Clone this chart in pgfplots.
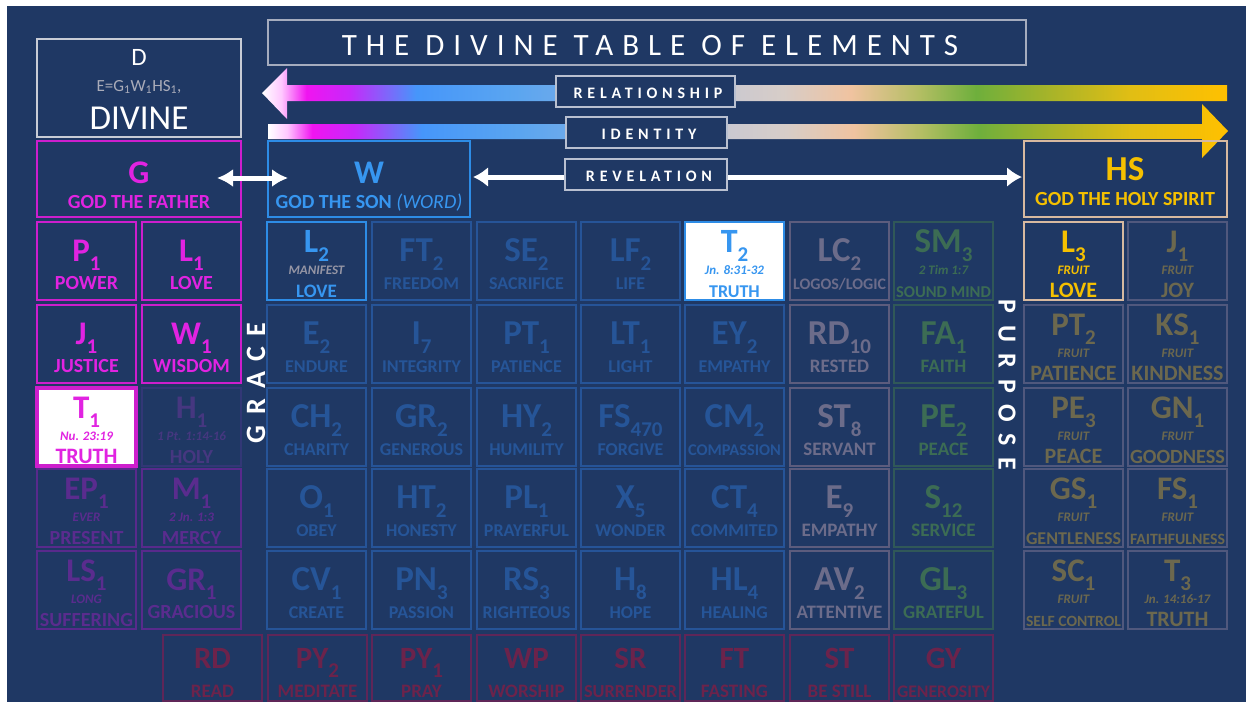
\documentclass[border=0pt]{standalone}
\usepackage{graphicx}
\usepackage{pgfplots}
\pgfplotsset{compat=1.18}
\usepackage{fontspec}
\setmainfont{Carlito}
\usetikzlibrary{arrows.meta}

% palette
\definecolor{bg}{RGB}{31,56,100}
\definecolor{mgB}{RGB}{205,30,205}
\definecolor{mgT}{RGB}{225,35,225}
\definecolor{puB}{RGB}{88,42,140}
\definecolor{puT}{RGB}{90,44,142}
\definecolor{hpB}{RGB}{50,55,118}
\definecolor{hpT}{RGB}{70,55,128}
\definecolor{blB}{RGB}{45,140,230}
\definecolor{blT}{RGB}{55,150,240}
\definecolor{bfB}{RGB}{38,84,152}
\definecolor{bfT}{RGB}{38,85,152}
\definecolor{gyB}{RGB}{92,92,125}
\definecolor{gyT}{RGB}{108,108,138}
\definecolor{grB}{RGB}{48,88,88}
\definecolor{grT}{RGB}{60,108,84}
\definecolor{gdT}{RGB}{245,192,0}
\definecolor{gdB}{RGB}{215,185,160}
\definecolor{gfT}{RGB}{108,104,78}
\definecolor{gfB}{RGB}{80,88,125}
\definecolor{rdB}{RGB}{95,38,88}
\definecolor{rdT}{RGB}{108,35,75}
\definecolor{noteG}{RGB}{150,150,165}
\definecolor{lblB}{RGB}{185,192,208}
\definecolor{ttlB}{RGB}{165,172,190}
\definecolor{dB}{RGB}{200,204,214}
\definecolor{dG}{RGB}{170,172,185}

% gradient of the two long arrows
\definecolor{s1}{RGB}{255,200,255}
\definecolor{s2}{RGB}{240,20,240}
\definecolor{s3}{RGB}{200,40,250}
\definecolor{s4}{RGB}{70,150,250}
\definecolor{s5}{RGB}{90,165,240}
\definecolor{s6}{RGB}{110,170,235}
\definecolor{s7}{RGB}{200,200,210}
\definecolor{s8}{RGB}{215,205,200}
\definecolor{s9}{RGB}{240,195,160}
\definecolor{s10}{RGB}{180,190,100}
\definecolor{s11}{RGB}{110,175,60}
\definecolor{s12}{RGB}{170,180,40}
\definecolor{s13}{RGB}{225,190,20}
\definecolor{s14}{RGB}{255,192,0}
\pgfdeclarehorizontalshading{rainbow}{100bp}{color(0bp)=(white); color(25bp)=(white);
  color(26bp)=(s1); color(27.3bp)=(s2); color(29.5bp)=(s3); color(33bp)=(s4);
  color(38bp)=(s5); color(41bp)=(s6); color(48.5bp)=(s7); color(52bp)=(s8);
  color(55.5bp)=(s9); color(59bp)=(s10); color(62bp)=(s11); color(66bp)=(s12);
  color(70bp)=(s13); color(75bp)=(s14); color(100bp)=(s14)}

\newsavebox\fitbox
\newcommand\fitw[2]{\sbox\fitbox{#2}\ifdim\wd\fitbox>#1\relax\resizebox{#1}{!}{\usebox\fitbox}\else\usebox\fitbox\fi}
\newcommand\sub[1]{\raisebox{-9pt}{\fontsize{21}{21}\selectfont#1}}

% group: name, border, fill, text, note colour, symbol size, name size, line width
\newcommand\defgroup[8]{%
  \tikzset{#1 box/.style={draw=#2, fill=#3, line width=#8},
    #1 sym/.style={text=#4, anchor=base, inner sep=0pt, font=\fontsize{#6}{#6}\selectfont\bfseries},
    #1 note/.style={text=#5, anchor=base, inner sep=0pt, font=\fontsize{13}{13}\selectfont\bfseries\itshape},
    #1 name/.style={text=#4, anchor=base, inner sep=0pt, font=\fontsize{#7}{#7}\selectfont\bfseries}}}
\defgroup{mg}{mgB}{bg}{mgT}{mgT}{33}{20}{2.5pt}
\defgroup{mgw}{mgB}{white}{mgT}{mgT}{33}{22}{4pt}
\defgroup{hp}{hpB}{bg}{hpT}{hpT}{33}{20}{2pt}
\defgroup{pu}{puB}{bg}{puT}{puT}{33}{20}{2.5pt}
\defgroup{bl}{blB}{bg}{blT}{noteG}{34}{19}{2pt}
\defgroup{blw}{blB}{white}{blT}{blT}{34}{18}{2pt}
\defgroup{bf}{bfB}{bg}{bfT}{bfT}{35}{18}{2.5pt}
\defgroup{gy}{gyB}{bg}{gyT}{gyT}{35}{19}{2.5pt}
\defgroup{gr}{grB}{bg}{grT}{grT}{35}{19}{2.5pt}
\defgroup{gd}{gdB}{bg}{gdT}{gdT}{33}{22}{2.5pt}
\defgroup{gf}{gfB}{bg}{gfT}{gfT}{33}{22}{2pt}
\defgroup{rd}{rdB}{bg}{rdT}{rdT}{31}{19}{2pt}

% cell: x, y (top left), group, symbol, subscript, note, name
\newcommand\cell[7]{%
  \pgfmathtruncatemacro\xb{#1+99}%
  \pgfmathsetmacro\xc{#1+49.5}%
  \pgfmathtruncatemacro\yb{#2+78}%
  \if\relax\detokenize{#6}\relax
    \pgfmathsetmacro\ys{#2+39}\pgfmathsetmacro\yn{#2+67}%
    \edef\doit{\noexpand\addplot[#3 box] coordinates {(#1,#2) (\xb,#2) (\xb,\yb) (#1,\yb)} -- cycle;
      \noexpand\node[#3 sym] at (axis cs:\xc,\ys) {\unexpanded{#4\sub{#5}}};
      \noexpand\node[#3 name] at (axis cs:\xc,\yn) {\unexpanded{\fitw{93pt}{#7}}};}%
  \else
    \pgfmathsetmacro\ys{#2+30}\pgfmathsetmacro\yt{#2+52}\pgfmathsetmacro\yn{#2+75}%
    \edef\doit{\noexpand\addplot[#3 box] coordinates {(#1,#2) (\xb,#2) (\xb,\yb) (#1,\yb)} -- cycle;
      \noexpand\node[#3 sym] at (axis cs:\xc,\ys) {\unexpanded{#4\sub{#5}}};
      \noexpand\node[#3 note] at (axis cs:\xc,\yt) {\unexpanded{\fitw{90pt}{#6}}};
      \noexpand\node[#3 name] at (axis cs:\xc,\yn) {\unexpanded{\fitw{95pt}{#7}}};}%
  \fi
  \doit}

% bottom row cell: x, symbol, subscript, name
\newcommand\bcell[4]{%
  \pgfmathtruncatemacro\xb{#1+99}%
  \pgfmathsetmacro\xc{#1+49.5}%
  \edef\doit{\noexpand\addplot[rd box] coordinates {(#1,635) (\xb,635) (\xb,701) (#1,701)} -- cycle;
    \noexpand\node[rd sym] at (axis cs:\xc,668) {\unexpanded{#2\sub{#3}}};
    \noexpand\node[rd name] at (axis cs:\xc,697) {\unexpanded{\fitw{93pt}{#4}}};}%
  \doit}

\begin{document}
\begin{tikzpicture}
\begin{axis}[
  width=1253pt, height=705pt, scale only axis,
  xmin=0, xmax=1253, ymin=0, ymax=705, y dir=reverse,
  hide axis, clip=false,
  every node/.append style={inner sep=0pt},
]
% page and background
\addplot[draw=none, fill=white] coordinates {(0,0) (1253,0) (1253,705) (0,705)} -- cycle;
\addplot[draw=none, fill=bg] coordinates {(7,6) (1246,6) (1246,702) (7,702)} -- cycle;

% title
\addplot[draw=ttlB, line width=1.5pt] coordinates {(268,20) (1026,20) (1026,65) (268,65)} -- cycle;
\node[white, anchor=base, font={\fontsize{31}{31}\selectfont\addfontfeature{LetterSpace=29}}] at (axis cs:650,55) {THE DIVINE TABLE OF ELEMENTS};

% long arrows
\addplot[draw=none, shade, shading=rainbow] coordinates {(262,93) (287,68) (287,85) (1227,85) (1227,101) (287,101) (287,119)} -- cycle;
\addplot[draw=none, shade, shading=rainbow] coordinates {(268,124) (1202,124) (1202,104) (1228,131) (1202,158) (1202,139) (268,139)} -- cycle;

% revelation arrow
\addplot[white, line width=5pt, {Latex[length=15pt,width=20pt]}-{Latex[length=15pt,width=20pt]}] coordinates {(473,177) (1022,177)};

% label boxes
\addplot[draw=lblB, fill=bg, line width=1.5pt] coordinates {(556,76) (735,76) (735,107) (556,107)} -- cycle;
\addplot[draw=lblB, fill=bg, line width=1.5pt] coordinates {(566,117) (727,117) (727,148) (566,148)} -- cycle;
\addplot[draw=lblB, fill=bg, line width=1.5pt] coordinates {(565,159) (727,159) (727,190) (565,190)} -- cycle;
\node[white, anchor=base, font={\fontsize{16}{16}\selectfont\bfseries\addfontfeature{LetterSpace=30}}] at (axis cs:648,98) {RELATIONSHIP};
\node[white, anchor=base, font={\fontsize{16}{16}\selectfont\bfseries\addfontfeature{LetterSpace=30}}] at (axis cs:649,139) {IDENTITY};
\node[white, anchor=base, font={\fontsize{16}{16}\selectfont\bfseries\addfontfeature{LetterSpace=30}}] at (axis cs:649,181) {REVELATION};

% D box
\addplot[draw=dB, line width=2.5pt] coordinates {(37,39) (241,39) (241,137) (37,137)} -- cycle;
\node[white, anchor=base, font=\fontsize{25}{25}\selectfont] at (axis cs:139,65) {D};
\node[dG, anchor=base, font=\fontsize{17}{17}\selectfont] at (axis cs:139,91) {E=G\textsubscript{1}W\textsubscript{1}HS\textsubscript{1},};
\node[white, anchor=base, font=\fontsize{35}{35}\selectfont] at (axis cs:139,129) {DIVINE};

% G, W, HS boxes
\addplot[draw=mgB, line width=2.5pt] coordinates {(37,141) (241,141) (241,217) (37,217)} -- cycle;
\node[mgT, anchor=base, font=\fontsize{33}{33}\selectfont\bfseries] at (axis cs:139,183) {G};
\node[mgT, anchor=base, font=\fontsize{20}{20}\selectfont\bfseries] at (axis cs:139,208) {\fitw{196pt}{GOD THE FATHER}};
\addplot[draw=blB, line width=2pt] coordinates {(268,141) (470,141) (470,217) (268,217)} -- cycle;
\node[blT, anchor=base, font=\fontsize{33}{33}\selectfont\bfseries] at (axis cs:369,183) {W};
\node[blT, anchor=base, font=\fontsize{20}{20}\selectfont\bfseries] at (axis cs:369,208) {\fitw{197pt}{GOD THE SON \textmd{\textit{(WORD)}}}};
\addplot[draw=gdB, line width=2.5pt] coordinates {(1024,141) (1227,141) (1227,217) (1024,217)} -- cycle;
\node[gdT, anchor=base, font=\fontsize{35}{35}\selectfont\bfseries] at (axis cs:1125,180) {HS};
\node[gdT, anchor=base, font=\fontsize{20}{20}\selectfont\bfseries] at (axis cs:1125,205) {\fitw{196pt}{GOD THE HOLY SPIRIT}};
\addplot[white, line width=5pt, {Latex[length=16pt,width=18pt]}-{Latex[length=16pt,width=18pt]}] coordinates {(217,178) (288,178)};

% left block
\cell{37}{222}{mg}{P}{1}{}{POWER}
\cell{142}{222}{mg}{L}{1}{}{LOVE}
\cell{37}{305}{mg}{J}{1}{}{JUSTICE}
\cell{142}{305}{mg}{W}{1}{}{WISDOM}
\cell{37}{388}{mgw}{T}{1}{Nu. 23:19}{TRUTH}
\cell{142}{388}{hp}{H}{1}{1 Pt. 1:14-16}{HOLY}
\cell{37}{469}{pu}{EP}{1}{EVER}{PRESENT}
\cell{142}{469}{pu}{M}{1}{2 Jn. 1:3}{MERCY}
\cell{37}{551}{pu}{LS}{1}{LONG}{SUFFERING}
\cell{142}{551}{pu}{GR}{1}{}{GRACIOUS}

% middle block
\cell{267}{222}{bl}{L}{2}{MANIFEST}{LOVE}
\cell{372}{222}{bf}{FT}{2}{}{FREEDOM}
\cell{477}{222}{bf}{SE}{2}{}{SACRIFICE}
\cell{581}{222}{bf}{LF}{2}{}{LIFE}
\cell{685}{222}{blw}{T}{2}{Jn. 8:31-32}{TRUTH}
\cell{790}{222}{gy}{LC}{2}{}{LOGOS/LOGIC}
\cell{894}{222}{gr}{SM}{3}{2 Tim 1:7}{SOUND MIND}

\cell{267}{305}{bf}{E}{2}{}{ENDURE}
\cell{372}{305}{bf}{I}{7}{}{INTEGRITY}
\cell{477}{305}{bf}{PT}{1}{}{PATIENCE}
\cell{581}{305}{bf}{LT}{1}{}{LIGHT}
\cell{685}{305}{bf}{EY}{2}{}{EMPATHY}
\cell{790}{305}{gy}{RD}{10}{}{RESTED}
\cell{894}{305}{gr}{FA}{1}{}{FAITH}

\cell{267}{388}{bf}{CH}{2}{}{CHARITY}
\cell{372}{388}{bf}{GR}{2}{}{GENEROUS}
\cell{477}{388}{bf}{HY}{2}{}{HUMILITY}
\cell{581}{388}{bf}{FS}{470}{}{FORGIVE}
\cell{685}{388}{bf}{CM}{2}{}{COMPASSION}
\cell{790}{388}{gy}{ST}{8}{}{SERVANT}
\cell{894}{388}{gr}{PE}{2}{}{PEACE}

\cell{267}{469}{bf}{O}{1}{}{OBEY}
\cell{372}{469}{bf}{HT}{2}{}{HONESTY}
\cell{477}{469}{bf}{PL}{1}{}{PRAYERFUL}
\cell{581}{469}{bf}{X}{5}{}{WONDER}
\cell{685}{469}{bf}{CT}{4}{}{COMMITED}
\cell{790}{469}{gy}{E}{9}{}{EMPATHY}
\cell{894}{469}{gr}{S}{12}{}{SERVICE}

\cell{267}{551}{bf}{CV}{1}{}{CREATE}
\cell{372}{551}{bf}{PN}{3}{}{PASSION}
\cell{477}{551}{bf}{RS}{3}{}{RIGHTEOUS}
\cell{581}{551}{bf}{H}{8}{}{HOPE}
\cell{685}{551}{bf}{HL}{4}{}{HEALING}
\cell{790}{551}{gy}{AV}{2}{}{ATTENTIVE}
\cell{894}{551}{gr}{GL}{3}{}{GRATEFUL}

% right block
\cell{1024}{222}{gd}{L}{3}{FRUIT}{LOVE}
\cell{1128}{222}{gf}{J}{1}{FRUIT}{JOY}
\cell{1024}{305}{gf}{PT}{2}{FRUIT}{PATIENCE}
\cell{1128}{305}{gf}{KS}{1}{FRUIT}{KINDNESS}
\cell{1024}{388}{gf}{PE}{3}{FRUIT}{PEACE}
\cell{1128}{388}{gf}{GN}{1}{FRUIT}{GOODNESS}
\cell{1024}{469}{gf}{GS}{1}{FRUIT}{GENTLENESS}
\cell{1128}{469}{gf}{FS}{1}{FRUIT}{FAITHFULNESS}
\cell{1024}{551}{gf}{SC}{1}{FRUIT}{SELF CONTROL}
\cell{1128}{551}{gf}{T}{3}{Jn. 14:16-17}{TRUTH}

% bottom row
\bcell{163}{RD}{}{READ}
\bcell{268}{PY}{2}{MEDITATE}
\bcell{372}{PY}{1}{PRAY}
\bcell{477}{WP}{}{WORSHIP}
\bcell{581}{SR}{}{SURRENDER}
\bcell{685}{FT}{}{FASTING}
\bcell{790}{ST}{}{BE STILL}
\bcell{894}{GY}{}{GENEROSITY}

% side words
\node[white, rotate=90, font={\fontsize{28}{28}\selectfont\bfseries\addfontfeature{LetterSpace=37}}] at (axis cs:256,383) {GRACE};
\node[white, rotate=-90, font={\fontsize{26}{26}\selectfont\bfseries\addfontfeature{LetterSpace=44}}] at (axis cs:1007,385) {PURPOSE};
\end{axis}
\end{tikzpicture}
\end{document}
